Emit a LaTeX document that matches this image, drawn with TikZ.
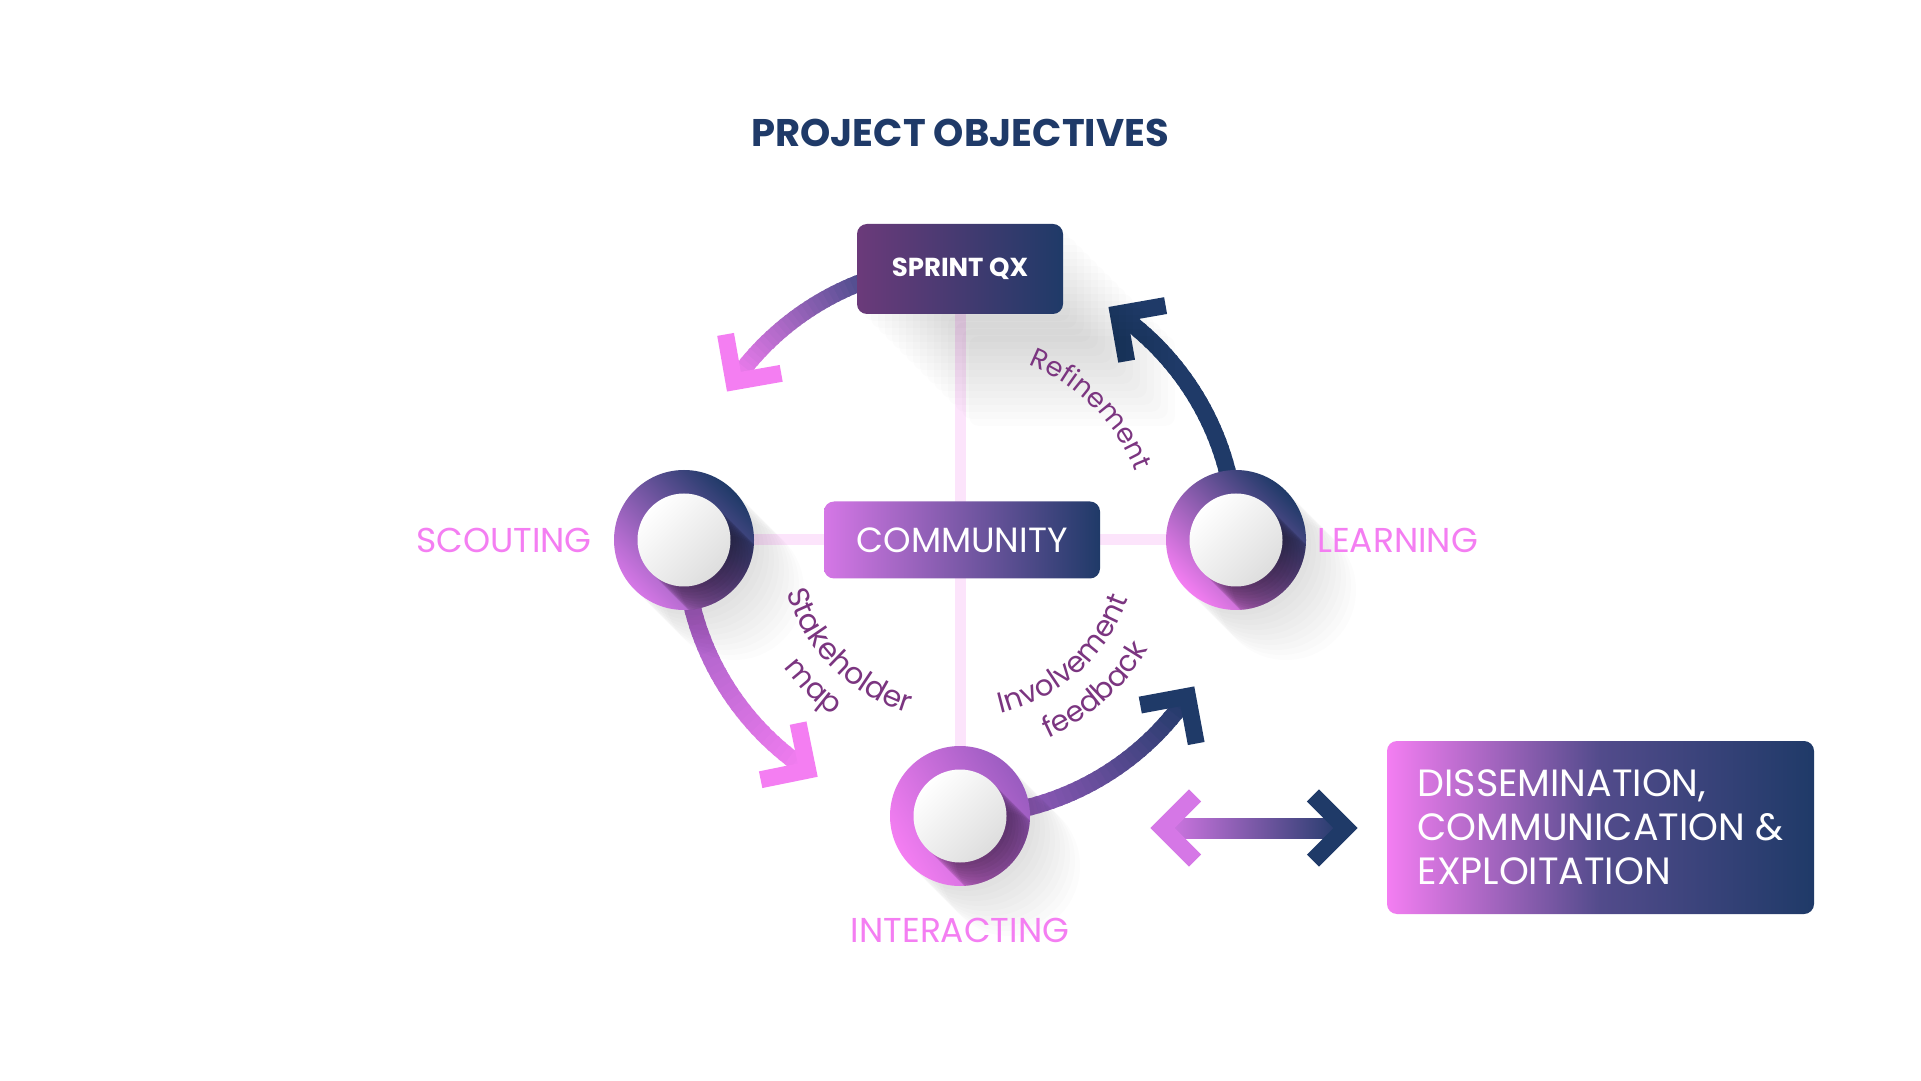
\documentclass[tikz,border=0pt]{standalone}
\usepackage{fontspec}
\setmainfont{Poppins}
\usetikzlibrary{backgrounds}
\usetikzlibrary{decorations.text}

\definecolor{ocnavy}{HTML}{1F3A68}
\definecolor{ocplum}{HTML}{6B3A7A}
\definecolor{oclilac}{HTML}{D577E6}
\definecolor{ocpink}{HTML}{F47EF2}
\definecolor{ocviolet}{HTML}{9A5CC0}
\definecolor{ocblue}{HTML}{434A86}
\definecolor{octext}{HTML}{7B3580}
\definecolor{occross}{HTML}{FCE4FB}

\newcommand\titlefont{\fontsize{38.5}{44}\selectfont\bfseries}
\newcommand\sprintfont{\fontsize{26}{30}\selectfont\bfseries}
\newcommand\commfont{\fontsize{35}{40}\selectfont}
\newcommand\stagefont{\fontsize{34.5}{40}\selectfont}
\newcommand\dissfont{\fontsize{38}{44}\selectfont}
\newcommand\arcfont{\fontsize{29}{34}\selectfont}

\begin{document}
\begin{tikzpicture}[x=1pt, y=1pt,
  crossline/.style={line width=11pt, occross},
  chev/.style={line width=17pt, line join=miter},
  box/.style={rounded corners=10pt, inner sep=0pt, text=white},
  ring/.style={circle, inner sep=0pt, minimum size=140pt},
  hole/.style={circle, inner sep=0pt, minimum size=93pt,
    top color=white, bottom color=black!13, shading angle=45},
  stagelbl/.style={inner sep=0pt, text=ocpink, font=\stagefont},
  arclbl/.style={decorate, decoration={text along path, text align=center, text color=octext}}]

  \useasboundingbox (0,0) rectangle (1921,1080);
  \coordinate (c) at (960,540);

  % title
  \node[font=\titlefont, text=ocnavy] (title) at (960,947.5) {PROJECT OBJECTIVES};

  % centre boxes
  \foreach \k in {1,...,16}
    \fill[black, opacity=0.012, rounded corners=10pt] (857+\k*7,766-\k*7) rectangle ++(206,90);
  \node[box, left color=ocplum, right color=ocnavy, minimum width=206pt, minimum height=90pt,
    font=\sprintfont] (sprint) at (960,811) {SPRINT QX};
  \node[box, left color=oclilac, right color=ocnavy, minimum width=276pt, minimum height=77pt,
    font=\commfont] (comm) at (962,540) {COMMUNITY};

  % the three stages, with their long shadows
  \foreach \nm/\x/\y/\ctop/\cbot/\ang in {sc/684/540/ocnavy/oclilac/-45,
      le/1236/540/ocnavy/ocpink/-45, ia/960/264/ocviolet/ocpink/-60}{
    \foreach \k in {1,...,10}
      \fill[black, opacity=0.012] (\x+\k*5,\y-\k*5) circle[radius=70];
    \node[ring, top color=\ctop, bottom color=\cbot, shading angle=\ang] (\nm) at (\x,\y) {};
    \begin{scope}
      \clip (\x,\y) circle[radius=70];
      \foreach \k in {1,...,14}
        \fill[black, opacity=0.04] (\x+\k*3,\y-\k*3) circle[radius=46.5];
    \end{scope}
    \node[hole] (\nm h) at (\nm) {};
  }

  \node[stagelbl, anchor=east] (scl) at (592,540) {SCOUTING};
  \node[stagelbl, anchor=west] (lel) at (1317,540) {LEARNING};
  \node[stagelbl] (ial) at (960,150) {INTERACTING};

  % outcome
  \node[box, left color=ocpink, right color=ocnavy, middle color=ocnavy!72!oclilac,
    minimum width=427pt, minimum height=173pt, align=left, font=\dissfont]
    (diss) at (1600.5,252.5) {DISSEMINATION,\\COMMUNICATION \&\\EXPLOITATION};

  % labels along the cycle
  \path[arclbl, decoration={text={|\fontsize{27}{32}\selectfont|Refinement}}]
    (c) ++(80:188) arc[start angle=80, end angle=10, radius=188];
  \path[arclbl, decoration={text={|\fontsize{30}{34}\selectfont|Stakeholder}}]
    (c) ++(185:181) arc[start angle=185, end angle=265, radius=181];
  \path[arclbl, decoration={text={|\arcfont|map}}]
    (c) ++(195:217) arc[start angle=195, end angle=255, radius=217];
  \path[arclbl, decoration={text={|\arcfont|Involvement}}]
    (c) ++(275:178) arc[start angle=275, end angle=349, radius=178];
  \path[arclbl, decoration={text={|\arcfont|feedback}}]
    (c) ++(282:217) arc[start angle=282, end angle=342, radius=217];

  \begin{scope}[on background layer]
    \fill[white] (0,0) rectangle (1921,1080);
    \draw[crossline] (sprint) -- (ia);
    \draw[crossline] (sc) -- (le);

    % cycle arrows
    \foreach \sa/\ea/\ca/\cb in {108/145/ocblue/ocpink, 10/55/ocnavy/ocnavy,
        190/236.5/ocviolet/ocpink, 280/325.5/ocviolet/ocnavy}{
      \foreach \i in {0,...,29}{
        \pgfmathsetmacro\angA{\sa+(\ea-\sa)*\i/30}
        \pgfmathsetmacro\angB{\sa+(\ea-\sa)*(\i+1.4)/30}
        \pgfmathtruncatemacro\mixp{100*\i/29}
        \draw[line width=17pt, color=\cb!\mixp!\ca]
          (c) ++(\angA:276) arc[start angle=\angA, end angle=\angB, radius=276];
      }
      \pgfmathsetmacro\hda{\ea+225}
      \pgfmathsetmacro\hdb{\ea+45}
      \pgfmathsetmacro\hdc{\ea-45}
      \draw[chev, \cb] (c) ++(\ea:276) ++(\hda:48) -- ++(\hdb:48) -- ++(\hdc:48);
    }

    % two-way arrow
    \coordinate (dl) at (1162.5,252);
    \coordinate (dr) at (1345.5,252);
    \shade[left color=oclilac, right color=ocnavy] (dl) ++(0,-10) rectangle ++(183,20);
    \draw[chev, oclilac] (dl) ++(45:46) -- (dl) -- ++(-45:46);
    \draw[chev, ocnavy] (dr) ++(135:46) -- (dr) -- ++(225:46);
  \end{scope}
\end{tikzpicture}
\end{document}
